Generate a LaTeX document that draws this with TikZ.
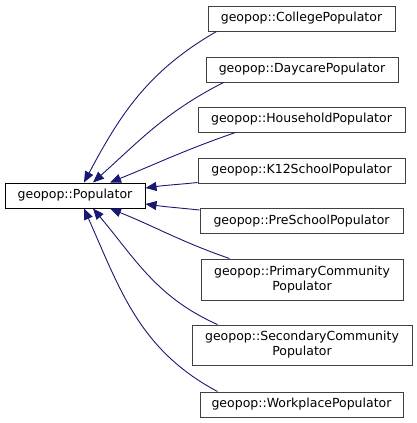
\documentclass[tikz,border=0pt]{standalone}
\usepackage{fontspec}
\setmainfont{DejaVu Sans}
\usepackage{tikz}
\usetikzlibrary{arrows.meta,positioning,calc}

\definecolor{edgeblue}{RGB}{25,25,112}

\begin{document}
\begin{tikzpicture}[
    x=1pt, y=1pt,
    font=\fontsize{12.5}{15}\selectfont,
    block/.style={rectangle, draw=black!75, fill=white, line width=1pt, align=center, inner sep=0pt, minimum height=25pt},
    line/.style={draw=edgeblue, line width=0.9pt, -{Triangle[length=11pt,width=9pt]}}
]
    \useasboundingbox (0,0) rectangle (417,-423);

    \node [block, draw=black, minimum width=140pt] (pop) at (75,-195.5) {geopop::Populator};

    \node [block, minimum width=187pt] (college) at (301.5,-18.5) {geopop::CollegePopulator};
    \node [block, minimum width=192pt] (daycare) at (302,-69.5) {geopop::DaycarePopulator};
    \node [block, minimum width=207pt] (household) at (301.5,-119.5) {geopop::HouseholdPopulator};
    \node [block, minimum width=207pt] (k12) at (301.5,-170.5) {geopop::K12SchoolPopulator};
    \node [block, minimum width=203pt] (preschool) at (301.5,-221) {geopop::PreSchoolPopulator};
    \node [block, minimum width=202pt, minimum height=41pt] (primary) at (302,-279.5) {geopop::PrimaryCommunity\\Populator};
    \node [block, minimum width=220pt, minimum height=40pt] (secondary) at (302,-345) {geopop::SecondaryCommunity\\Populator};
    \node [block, minimum width=203pt] (workplace) at (301.5,-404.5) {geopop::WorkplacePopulator};

    % inheritance edges
    \draw [line] ([xshift=9pt]college.south west) to[out=210, in=62] ([xshift=9pt]pop.north);
    \draw [line] ([xshift=18pt]daycare.south west) to[out=207, in=42] ([xshift=18pt]pop.north);
    \draw [line] ([xshift=38pt]household.south west) to[out=199, in=22] ([xshift=35pt]pop.north);
    \draw [line] ([yshift=1pt]k12.south west) to[out=186, in=8] ([yshift=7.5pt]pop.east);
    \draw [line] ([yshift=-2pt]preschool.north west) to[out=174, in=-8] ([yshift=-8.5pt]pop.east);
    \draw [line] ([xshift=29pt]primary.north west) to[out=161, in=-22] ([xshift=35pt]pop.south);
    \draw [line] ([xshift=26pt]secondary.north west) to[out=156, in=-50] ([xshift=18pt]pop.south);
    \draw [line] ([xshift=18pt]workplace.north west) to[out=152, in=-66] ([xshift=9pt]pop.south);
\end{tikzpicture}
\end{document}
